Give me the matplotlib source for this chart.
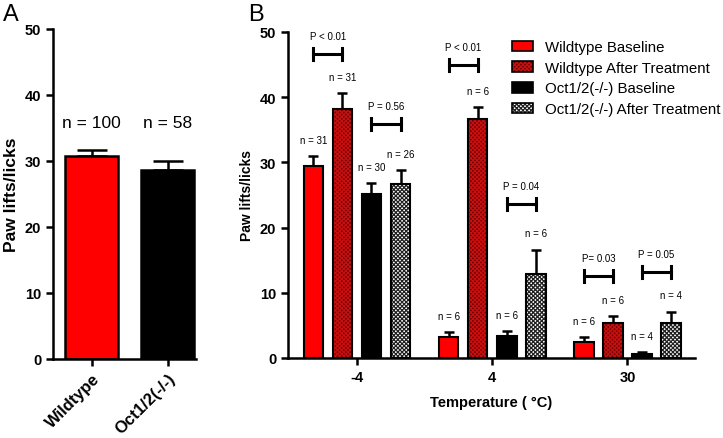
import matplotlib
matplotlib.use("Agg")
import matplotlib.pyplot as plt
from matplotlib.patches import Patch
import numpy as np

plt.rcParams['font.family'] = ['Liberation Sans', 'DejaVu Sans']
plt.rcParams['hatch.linewidth'] = 0.9

# panel A
a_groups = ['Wildtype', 'Oct1/2(-/-)']
a_means = [30.8, 28.7]
a_sem = [0.8, 1.3]
a_n = ['n = 100', 'n = 58']
a_colors = ['#ff0000', '#000000']

# panel B
temps = ['-4', '4', '30']
series = ['Wildtype Baseline', 'Wildtype After Treatment',
          'Oct1/2(-/-) Baseline', 'Oct1/2(-/-) After Treatment']
means = [[29.4, 3.2, 2.5],
         [38.2, 36.7, 5.4],
         [25.2, 3.4, 0.6],
         [26.7, 12.9, 5.3]]
sems = [[1.6, 0.8, 0.7],
        [2.4, 1.8, 1.0],
        [1.6, 0.7, 0.3],
        [2.1, 3.7, 1.8]]
n_labels = [['n = 31', 'n = 6', 'n = 6'],
            ['n = 31', 'n = 6', 'n = 6'],
            ['n = 30', 'n = 6', 'n = 4'],
            ['n = 26', 'n = 6', 'n = 4']]
p_text = [['P < 0.01', 'P = 0.56'], ['P < 0.01', 'P = 0.04'], ['P= 0.03', 'P = 0.05']]
p_y = [[46.6, 35.9], [44.9, 23.6], [12.6, 13.2]]

face = ['#ff0000', '#6e0000', '#000000', '#ffffff']
hatch = [None, 'xxxxxxxx', None, 'xxxxxxxx']
hatch_col = ['#ff0000', '#c81010', '#000000', '#202020']

W, H = 723, 439
fig = plt.figure(figsize=(W / 100, H / 100), dpi=100)

def style(ax):
    for s in ['top', 'right']:
        ax.spines[s].set_visible(False)
    for s in ['left', 'bottom']:
        ax.spines[s].set_linewidth(1.8)
    ax.tick_params(width=1.8, length=5)
    ax.set_ylim(0, 50)
    ax.set_yticks([0, 10, 20, 30, 40, 50])
    for lab in ax.get_yticklabels():
        lab.set_fontweight('bold')
        lab.set_fontsize(10.5)

# ---- A ----
axA = fig.add_axes([53 / W, 1 - 360 / H, 143 / W, 330 / H])
xa = np.arange(len(a_groups))
axA.errorbar(xa, a_means, yerr=[np.zeros(2), a_sem], fmt='none', ecolor='black',
             elinewidth=1.8, capsize=11, capthick=1.8, zorder=1)
axA.bar(xa, a_means, width=0.7, color=a_colors, edgecolor='black', linewidth=1.8, zorder=2)
for x, t in zip(xa, a_n):
    axA.text(x, 35.8, t, ha='center', va='center', fontsize=12.5)
axA.set_xlim(-0.51, 1.37)
style(axA)
axA.set_xticks(xa)
axA.set_xticklabels(a_groups, rotation=45, ha='right', rotation_mode='anchor',
                    fontweight='bold', fontsize=12)
axA.set_ylabel('Paw lifts/licks', fontweight='bold', fontsize=12.5, labelpad=4)
fig.text(3 / W, 1 - 15 / H, 'A', fontsize=17, va='center', ha='left')

# ---- B ----
axB = fig.add_axes([288 / W, 1 - 359 / H, 407 / W, 326 / H])
xb = np.arange(len(temps))
step, width = 0.215, 0.145
offs = (np.arange(4) - 1.5) * step
for i in range(4):
    xs = xb + offs[i]
    axB.errorbar(xs, means[i], yerr=[np.zeros(3), sems[i]], fmt='none', ecolor='black',
                 elinewidth=1.8, capsize=3.8, capthick=1.8, zorder=1)
    axB.bar(xs, means[i], width=width, color=face[i], edgecolor=hatch_col[i],
            hatch=hatch[i], linewidth=0, zorder=2)
    axB.bar(xs, means[i], width=width, fill=False, edgecolor='black', linewidth=1.5, zorder=3)
    for x, m, s, t in zip(xs, means[i], sems[i], n_labels[i]):
        axB.text(x, m + s + 2.5, t, ha='center', va='center', fontsize=7)

# significance brackets
for g in range(3):
    for k, (a, b) in enumerate([(0, 1), (2, 3)]):
        x0, x1 = xb[g] + offs[a], xb[g] + offs[b]
        y = p_y[g][k]
        axB.plot([x0, x1], [y, y], color='black', lw=2.2)
        axB.plot([x0, x0], [y - 0.9, y + 0.9], color='black', lw=2.2)
        axB.plot([x1, x1], [y - 0.9, y + 0.9], color='black', lw=2.2)
        axB.text((x0 + x1) / 2, y + 2.8, p_text[g][k], ha='center', va='center', fontsize=7)

axB.set_xlim(-0.51, 2.5)
style(axB)
axB.set_xticks(xb)
axB.set_xticklabels(temps, fontweight='bold', fontsize=10.5)
axB.set_xlabel('Temperature ( °C)', fontweight='bold', fontsize=10.5, labelpad=8)
axB.set_ylabel('Paw lifts/licks', fontweight='bold', fontsize=10, labelpad=4)
fig.text(248 / W, 1 - 15 / H, 'B', fontsize=17, va='center', ha='left')

handles = []
for i in range(4):
    fill = Patch(facecolor=face[i], edgecolor=hatch_col[i], hatch=hatch[i], linewidth=0)
    edge = Patch(facecolor='none', edgecolor='black', linewidth=1.2)
    handles.append((fill, edge))
fig.legend(handles, series, loc='upper left', bbox_to_anchor=(512 / W, 1 - 41 / H),
           frameon=False, fontsize=10.8, handlelength=1.4, handleheight=0.7,
           handletextpad=0.8, labelspacing=0.45, borderpad=0, borderaxespad=0)

fig.savefig('out.png', dpi=100)
